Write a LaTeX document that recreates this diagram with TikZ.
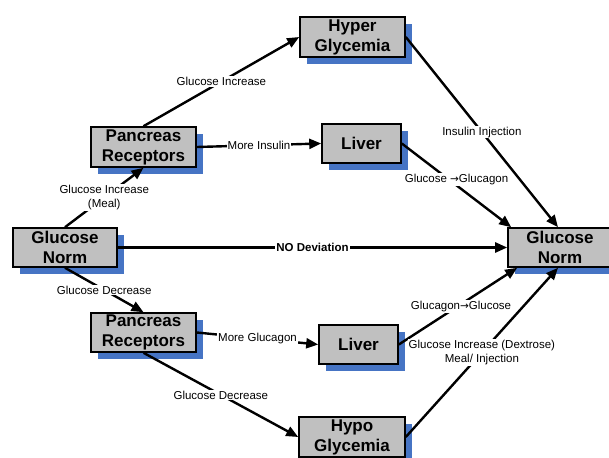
\documentclass[tikz,border=0pt]{standalone}
\usepackage{fontspec}
\setmainfont{Liberation Sans}
\newfontfamily\arrowfont{DejaVu Sans}
\usetikzlibrary{arrows.meta,shadows}
\definecolor{boxgray}{RGB}{192,192,192}
\definecolor{shadowblue}{RGB}{70,116,196}
\newcommand{\glyarrow}{{\arrowfont\fontsize{10.5}{12}\selectfont →}}
\begin{document}
\begin{tikzpicture}[x=1pt,y=-1pt,
  box/.style={draw=black,line width=1.6pt,fill=boxgray,inner sep=0pt,align=center,
    font=\bfseries\fontsize{17}{20}\selectfont,
    drop shadow={shadow xshift=7pt,shadow yshift=-7pt,fill=shadowblue,draw=none,opacity=1}},
  conn/.style={line width=2.4pt,-{Triangle[length=12pt,width=10pt]}},
  lbl/.style={fill=white,inner sep=1pt,font=\fontsize{11.5}{13.5}\selectfont,align=center}]
\useasboundingbox (0,0) rectangle (609,457);
\node[box,minimum width=105pt,minimum height=40pt] (hyper) at (352.5,37) {Hyper\\Glycemia};
\node[box,minimum width=105pt,minimum height=40pt] (pancU) at (143.5,147) {Pancreas\\Receptors};
\node[box,minimum width=79pt,minimum height=39pt] (liverU) at (361.5,143.5) {Liver};
\node[box,minimum width=104pt,minimum height=39pt] (normL) at (65,247.5) {Glucose\\Norm};
\node[box,minimum width=104pt,minimum height=39pt] (normR) at (560,247.5) {Glucose\\Norm};
\node[box,minimum width=105pt,minimum height=39pt] (pancL) at (143.5,332.5) {Pancreas\\Receptors};
\node[box,minimum width=79pt,minimum height=39pt] (liverL) at (358.5,344.5) {Liver};
\node[box,minimum width=106pt,minimum height=40pt] (hypo) at (352,437) {Hypo\\Glycemia};

\draw[conn] (normL.north) -- node[lbl]{Glucose Increase\\(Meal)} (pancU.south);
\draw[conn] (pancU.north) -- node[lbl]{Glucose Increase} (hyper.west);
\draw[conn] (pancU.east) -- node[lbl]{More Insulin} (liverU.west);
\draw[conn] (hyper.east) -- node[lbl]{Insulin Injection} ([xshift=-2pt]normR.north);
\draw[conn] (liverU.east) -- node[lbl,yshift=6pt]{Glucose \glyarrow Glucagon} ([xshift=4pt]normR.north west);
\draw[conn] (normL.east) -- node[lbl,font=\bfseries\fontsize{11.5}{13.5}\selectfont]{NO Deviation} (normR.west);
\draw[conn] (normL.south) -- node[lbl]{Glucose Decrease} (pancL.north);
\draw[conn] (pancL.east) -- node[lbl]{More Glucagon} (liverL.west);
\draw[conn] (pancL.south) -- node[lbl]{Glucose Decrease} (hypo.west);
\draw[conn] (liverL.east) -- node[lbl,xshift=3pt]{Glucagon\glyarrow Glucose} ([xshift=10pt]normR.south west);
\draw[conn] (hypo.east) -- node[lbl]{Glucose Increase (Dextrose)\\Meal/ Injection} ([xshift=-2pt]normR.south);
\end{tikzpicture}
\end{document}
